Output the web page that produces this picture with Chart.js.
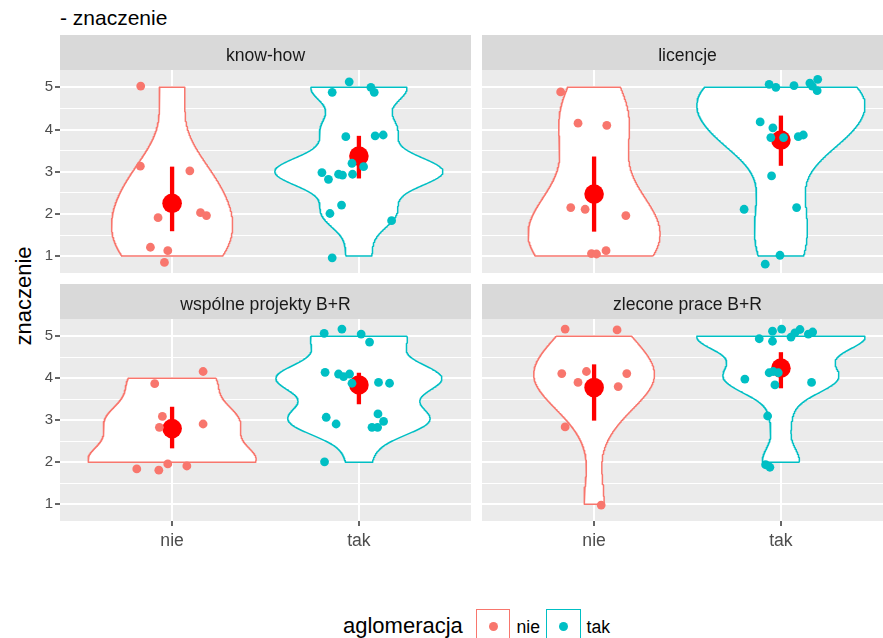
<!DOCTYPE html>
<html>
<head>
<meta charset="utf-8">
<script src="https://cdn.jsdelivr.net/npm/chart.js@4.4.1/dist/chart.umd.min.js"></script>
<style>
  html, body { margin: 0; padding: 0; background: #ffffff; }
  body {
    width: 883px; height: 638px; overflow: hidden; position: relative;
    font-family: "Liberation Sans", Arial, sans-serif; color: #000000;
  }
  .panel { position: absolute; }
  .panel canvas { display: block; }
  #title {
    position: absolute; left: 60px; top: 7px;
    font-size: 21px; line-height: 21px; white-space: nowrap;
  }
  #ylab {
    position: absolute; width: 200px; height: 22px; left: -76px; top: 285px;
    font-size: 22px; line-height: 22px; text-align: center; white-space: nowrap;
    transform: rotate(-90deg); transform-origin: 100px 11px;
  }
  #legend {
    position: absolute; left: 343px; top: 609px;
    display: flex; align-items: flex-start; white-space: nowrap;
  }
  #legend .ltitle { font-size: 22px; line-height: 22px; margin-top: 6.4px; margin-right: 13px; }
  #legend .key {
    box-sizing: border-box; width: 34.6px; height: 34.6px; background: #ffffff;
    border: 1.4px solid; position: relative;
  }
  #legend .key i {
    position: absolute; left: 50%; top: 50%; width: 9px; height: 9px;
    margin: -4.5px 0 0 -4.5px; border-radius: 50%;
  }
  #legend .ltext { font-size: 17.6px; line-height: 17.6px; margin-top: 10.1px; margin-left: 6px; margin-right: 6px; }
</style>
</head>
<body>
<div id="title">- znaczenie</div>
<div id="ylab">znaczenie</div>
<div id="legend"></div>

<script>
// ---- facets, groups and axis ticks ----
const FACETS = ['know-how', 'licencje', 'wspólne projekty B+R', 'zlecone prace B+R'];
const GROUPS = ['nie', 'tak'];
const Y_TICKS = [1, 2, 3, 4, 5];
const LEGEND_TITLE = 'aglomeracja';

// ---- answers per respondent: horizontal jitter (category units) and jittered score ----
// know-how
const knowNieX = [-0.168, -0.170, 0.095, -0.075, 0.152, 0.184, -0.116, -0.023, -0.041];
const knowNieY = [5.03, 3.13, 3.02, 1.91, 2.03, 1.96, 1.21, 1.13, 0.85];
const knowTakX = [-0.052, -0.143, 0.064, 0.082, -0.070, 0.087, 0.130, -0.198, -0.163, -0.109, -0.088, -0.034, -0.037, 0.025, -0.093, -0.155, 0.175, -0.143];
const knowTakY = [5.13, 4.88, 5.00, 4.88, 3.83, 3.85, 3.87, 2.98, 2.82, 2.94, 2.92, 2.94, 3.20, 3.12, 2.21, 2.01, 1.84, 0.96];
// licencje
const licNieX = [-0.179, -0.086, 0.068, -0.125, -0.048, 0.170, -0.014, 0.013, 0.064];
const licNieY = [4.89, 4.15, 4.10, 2.15, 2.11, 1.96, 1.06, 1.05, 1.13];
const licTakX = [-0.063, -0.027, 0.070, 0.155, 0.197, 0.194, 0.168, -0.111, -0.043, -0.054, 0.014, 0.093, 0.120, -0.050, -0.197, 0.084, -0.005, -0.084];
const licTakY = [5.07, 5.00, 5.04, 5.10, 5.19, 4.92, 5.03, 4.18, 4.04, 3.81, 3.81, 3.83, 3.87, 2.90, 2.11, 2.15, 1.02, 0.81];
// wspólne projekty B+R
const wspNieX = [0.166, -0.093, -0.052, -0.068, 0.166, -0.189, -0.071, -0.023, 0.079];
const wspNieY = [4.16, 3.87, 3.09, 2.83, 2.91, 1.84, 1.81, 1.96, 1.91];
const wspTakX = [-0.186, -0.091, 0.012, 0.057, -0.181, -0.109, -0.082, -0.050, -0.037, 0.105, 0.164, -0.175, -0.122, 0.102, 0.132, 0.100, 0.070, -0.184];
const wspTakY = [5.07, 5.17, 5.05, 4.86, 4.14, 4.10, 4.04, 4.10, 3.88, 3.90, 3.88, 3.07, 2.91, 3.15, 2.97, 2.83, 2.83, 2.01];
// zlecone prace B+R
const zleNieX = [-0.155, 0.123, -0.173, -0.041, 0.175, -0.086, 0.129, -0.155, 0.038];
const zleNieY = [5.17, 5.15, 4.11, 4.16, 4.11, 3.90, 3.80, 2.84, 0.98];
const zleTakX = [-0.116, -0.045, -0.045, 0.004, 0.054, 0.075, 0.102, 0.147, 0.170, -0.193, -0.063, -0.041, -0.014, -0.032, 0.164, -0.071, -0.082, -0.059];
const zleTakY = [4.94, 4.88, 5.12, 5.17, 4.98, 5.08, 5.16, 5.05, 5.10, 3.98, 4.13, 4.16, 4.13, 3.84, 3.90, 3.10, 1.94, 1.88];

// ---- group mean with its confidence interval, one entry per facet ----
const meanNie = [2.25, 2.47, 2.80, 3.78];
const lowNie  = [1.59, 1.58, 2.33, 2.99];
const highNie = [3.12, 3.36, 3.32, 4.33];
const meanTak = [3.37, 3.75, 3.84, 4.24];
const lowTak  = [2.84, 3.14, 3.38, 3.76];
const highTak = [3.85, 4.33, 4.13, 4.62];

// ---- styling ----
const GROUP_COLORS = ['#F8766D', '#00BFC4'];
const SUMMARY_COLOR = '#FF0000';
const PANEL_BG = '#EBEBEB';
const STRIP_BG = '#D9D9D9';
const FONT = '"Liberation Sans", Arial, sans-serif';
const Y_MIN = 0.6, Y_MAX = 5.41;
const X_MIN = 0.4, X_MAX = 2.6;
const VIOLIN_WIDTH = 0.9;
const STRIP_H = 35;

const jitterX = [[knowNieX, knowTakX], [licNieX, licTakX], [wspNieX, wspTakX], [zleNieX, zleTakX]];
const jitterY = [[knowNieY, knowTakY], [licNieY, licTakY], [wspNieY, wspTakY], [zleNieY, zleTakY]];
const means = [meanNie, meanTak];
const lows = [lowNie, lowTak];
const highs = [highNie, highTak];

// panel boxes on the page
const PANELS = [
  { facet: 0, left: 0,   top: 35,  width: 471, height: 238, yAxis: true,  xAxis: false },
  { facet: 1, left: 482, top: 35,  width: 411, height: 238, yAxis: false, xAxis: false },
  { facet: 2, left: 0,   top: 284, width: 471, height: 277, yAxis: true,  xAxis: true  },
  { facet: 3, left: 482, top: 284, width: 411, height: 277, yAxis: false, xAxis: true  },
];

// ---- kernel density (gaussian kernel, Silverman's rule "nrd0"), trimmed to the data range ----
function quantile7(sorted, p) {
  const h = (sorted.length - 1) * p;
  const lo = Math.floor(h);
  const hi = Math.min(lo + 1, sorted.length - 1);
  return sorted[lo] + (h - lo) * (sorted[hi] - sorted[lo]);
}
function bandwidth(values) {
  const n = values.length;
  const mean = values.reduce((a, b) => a + b, 0) / n;
  const sd = Math.sqrt(values.reduce((a, v) => a + (v - mean) ** 2, 0) / (n - 1));
  const s = [...values].sort((a, b) => a - b);
  const iqr = quantile7(s, 0.75) - quantile7(s, 0.25);
  let lo = Math.min(sd, iqr / 1.34);
  if (!lo) lo = sd || Math.abs(values[0]) || 1;
  return 0.9 * lo * Math.pow(n, -0.2);
}
function density(values, steps) {
  const bw = bandwidth(values);
  const lo = Math.min(...values), hi = Math.max(...values);
  const norm = values.length * bw * Math.sqrt(2 * Math.PI);
  const grid = [], dens = [];
  for (let i = 0; i <= steps; i++) {
    const y = lo + (hi - lo) * i / steps;
    grid.push(y);
    dens.push(values.reduce((a, v) => a + Math.exp(-0.5 * ((y - v) / bw) ** 2), 0) / norm);
  }
  return { grid, dens };
}

// ---- draws the grey panel and the facet strip above it ----
const panelBackground = {
  id: 'panelBackground',
  beforeDraw(chart, args, opts) {
    const { ctx, chartArea: a } = chart;
    ctx.save();
    ctx.fillStyle = PANEL_BG;
    ctx.fillRect(a.left, a.top, a.right - a.left, a.bottom - a.top);
    ctx.fillStyle = STRIP_BG;
    ctx.fillRect(a.left, a.top - STRIP_H, a.right - a.left, STRIP_H);
    ctx.fillStyle = '#1A1A1A';
    ctx.font = '17.6px ' + FONT;
    ctx.textAlign = 'center';
    ctx.textBaseline = 'alphabetic';
    ctx.fillText(opts.label, (a.left + a.right) / 2, a.top - 9.5);
    ctx.restore();
  }
};

// axes keep exactly the size given to them, with no extra room for edge labels
function fixAxis(axis, size) {
  if (axis.isHorizontal()) axis.height = size; else axis.width = size;
  axis.paddingLeft = axis.paddingRight = axis.paddingTop = axis.paddingBottom = 0;
}

function buildPanel(p) {
  const f = p.facet;
  const wrap = document.createElement('div');
  wrap.className = 'panel';
  Object.assign(wrap.style, { left: p.left + 'px', top: p.top + 'px', width: p.width + 'px', height: p.height + 'px' });
  const canvas = document.createElement('canvas');
  canvas.width = p.width; canvas.height = p.height;
  canvas.style.width = p.width + 'px'; canvas.style.height = p.height + 'px';
  wrap.appendChild(canvas);
  document.body.appendChild(wrap);

  // answers behind the jittered points (jitter stays within half a step)
  const answers = GROUPS.map((g, gi) => jitterY[f][gi].map(v => Math.round(v)));
  const kd = answers.map(a => density(a, 256));
  const peak = Math.max(...kd.flatMap(d => d.dens));

  const datasets = [];
  GROUPS.forEach((g, gi) => {
    const c = gi + 1;
    const d = kd[gi];
    const right = d.grid.map((y, i) => ({ x: c + d.dens[i] / peak * VIOLIN_WIDTH / 2, y }));
    const left = d.grid.map((y, i) => ({ x: c - d.dens[i] / peak * VIOLIN_WIDTH / 2, y })).reverse();
    datasets.push({
      label: g + ' violin', data: [...right, ...left, right[0]],
      showLine: true, fill: 'shape', backgroundColor: '#FFFFFF',
      borderColor: GROUP_COLORS[gi], borderWidth: 1.5, borderJoinStyle: 'round',
      pointRadius: 0, tension: 0, order: 3
    });
    datasets.push({
      label: g + ' interval', data: [{ x: c, y: lows[gi][f] }, { x: c, y: highs[gi][f] }],
      showLine: true, borderColor: SUMMARY_COLOR, borderWidth: 4.3, borderCapStyle: 'butt',
      pointRadius: 0, order: 2
    });
    datasets.push({
      label: g + ' mean', data: [{ x: c, y: means[gi][f] }],
      pointRadius: 9.8, backgroundColor: SUMMARY_COLOR, borderWidth: 0, order: 1
    });
    datasets.push({
      label: g, data: jitterY[f][gi].map((y, i) => ({ x: c + jitterX[f][gi][i], y })),
      pointRadius: 4.4, backgroundColor: GROUP_COLORS[gi], borderWidth: 0, order: 0
    });
  });

  const majorY = Y_TICKS;
  const minorY = Y_TICKS.slice(1).map((v, i) => (v + Y_TICKS[i]) / 2);
  const isMajor = v => majorY.includes(v);

  new Chart(canvas, {
    type: 'scatter',
    data: { datasets },
    options: {
      responsive: false, animation: false, events: [],
      layout: { autoPadding: false, padding: { top: STRIP_H, left: 0, right: 0, bottom: 0 } },
      plugins: { legend: { display: false }, tooltip: { enabled: false }, panelBackground: { label: FACETS[f] } },
      scales: {
        x: {
          type: 'linear', min: X_MIN, max: X_MAX,
          afterBuildTicks: axis => { axis.ticks = GROUPS.map((g, i) => ({ value: i + 1 })); },
          afterFit: axis => fixAxis(axis, p.xAxis ? 40 : 0),
          border: { display: false },
          grid: { color: '#FFFFFF', lineWidth: 2, drawTicks: p.xAxis, tickLength: 5, tickColor: '#333333', tickWidth: 1.5 },
          ticks: {
            display: p.xAxis, autoSkip: false, maxRotation: 0, padding: 5,
            color: '#4D4D4D', font: { size: 17.6, family: FONT },
            callback: v => GROUPS[v - 1]
          }
        },
        y: {
          type: 'linear', min: Y_MIN, max: Y_MAX,
          afterBuildTicks: axis => { axis.ticks = [...majorY, ...minorY].sort((a, b) => a - b).map(v => ({ value: v })); },
          afterFit: axis => fixAxis(axis, p.yAxis ? 60 : 0),
          border: { display: false },
          grid: {
            color: '#FFFFFF',
            lineWidth: ctx => isMajor(ctx.tick.value) ? 2 : 1,
            drawTicks: p.yAxis, tickLength: 5, tickWidth: 1.5,
            tickColor: ctx => isMajor(ctx.tick.value) ? '#333333' : 'rgba(0,0,0,0)'
          },
          ticks: {
            display: p.yAxis, autoSkip: false, padding: 2,
            color: '#4D4D4D', font: { size: 15, family: FONT },
            callback: v => isMajor(v) ? String(v) : ''
          }
        }
      }
    },
    plugins: [panelBackground]
  });
}

PANELS.forEach(buildPanel);

// ---- legend ----
const legend = document.getElementById('legend');
const lt = document.createElement('span');
lt.className = 'ltitle'; lt.textContent = LEGEND_TITLE;
legend.appendChild(lt);
GROUPS.forEach((g, gi) => {
  const key = document.createElement('div');
  key.className = 'key'; key.style.borderColor = GROUP_COLORS[gi];
  const dot = document.createElement('i'); dot.style.background = GROUP_COLORS[gi];
  key.appendChild(dot);
  legend.appendChild(key);
  const t = document.createElement('span');
  t.className = 'ltext'; t.textContent = g;
  legend.appendChild(t);
});
</script>
</body>
</html>
